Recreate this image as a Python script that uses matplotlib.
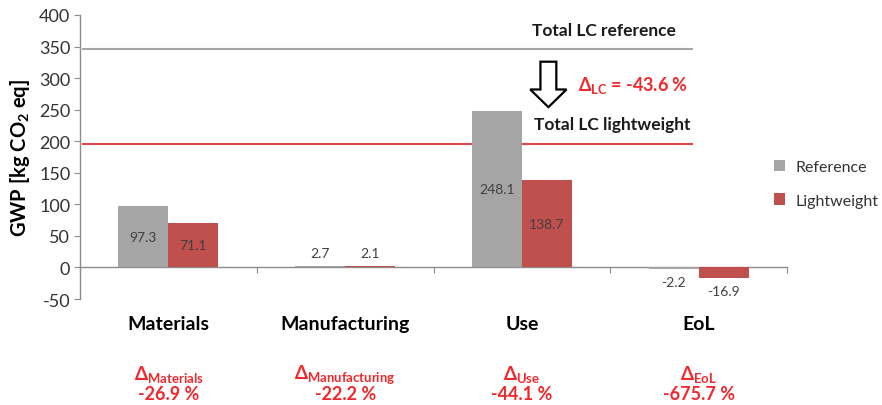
import matplotlib
matplotlib.use("Agg")
import matplotlib.pyplot as plt
import numpy as np
from matplotlib.patches import Patch, FancyArrow

plt.rcParams['font.family'] = ['Lato', 'DejaVu Sans']
plt.rcParams['mathtext.fontset'] = 'custom'
plt.rcParams['mathtext.rm'] = 'Lato:bold'
plt.rcParams['mathtext.it'] = 'Lato:bold'
plt.rcParams['mathtext.bf'] = 'Lato:bold'

# Life-cycle phases and GWP per phase
phases = ["Materials", "Manufacturing", "Use", "EoL"]
phase_subscripts = ["Materials", "Manufacturing", "Use", "EoL"]
reference = [97.3, 2.7, 248.1, -2.2]
lightweight = [71.1, 2.1, 138.7, -16.9]
phase_deltas = ["-26.9 %", "-22.2 %", "-44.1 %", "-675.7 %"]
series_names = ["Reference", "Lightweight"]
y_ticks = [-50, 0, 50, 100, 150, 200, 250, 300, 350, 400]

ref_color = "#A5A5A5"
lw_color = "#C0504D"
line_red = "#E0464B"
delta_red = "#F0282D"
text_gray = "#404040"
axis_gray = "#8C8C8C"

fig = plt.figure(figsize=(8.82, 4.06), dpi=100)
ax = fig.add_axes([0.0907, 0.261, 0.8016, 0.6996])

x = np.arange(len(phases)) + 0.5
bw = 0.283
ref_bars = ax.bar(x - bw / 2, reference, bw, color=ref_color, zorder=3)
lw_bars = ax.bar(x + bw / 2, lightweight, bw, color=lw_color, zorder=3)

# value labels: inside tall bars, outside short ones
for bars, vals in ((ref_bars, reference), (lw_bars, lightweight)):
    for b, v in zip(bars, vals):
        cx = b.get_x() + b.get_width() / 2
        if abs(v) > 30:
            ax.text(cx, v / 2, f"{v:.1f}", ha="center", va="center",
                    fontsize=10, color=text_gray, zorder=4)
        elif v >= 0:
            ax.annotate(f"{v:.1f}", (cx, v), xytext=(0, 5), textcoords="offset points",
                        ha="center", va="bottom", fontsize=10, color=text_gray)
        else:
            ax.annotate(f"{v:.1f}", (cx, v), xytext=(0, -5), textcoords="offset points",
                        ha="center", va="top", fontsize=10, color=text_gray)

# life-cycle totals
total_ref = sum(reference)
total_lw = sum(lightweight)
delta_lc = (total_lw - total_ref) / total_ref * 100
ax.hlines(total_ref, 0.01, 3.47, color="#A6A6A6", lw=1.5, zorder=2)
ax.hlines(total_lw, 0.01, 3.47, color=line_red, lw=1.5, zorder=2)
ax.text(2.56, 377, "Total LC reference", fontsize=12.5, fontweight="bold",
        color="#1a1a1a", ha="left", va="center")
ax.text(2.57, 228, "Total LC lightweight", fontsize=12.5, fontweight="bold",
        color="#1a1a1a", ha="left", va="center")
ax.add_patch(FancyArrow(2.65, 326, 0, -72, width=0.09, head_width=0.205,
                        head_length=28, length_includes_head=True,
                        facecolor="white", edgecolor="black", lw=1.6, zorder=5))
ax.text(2.82, 290, r"$\Delta_{\rm LC}$" + f" = {delta_lc:.1f} %", fontsize=13,
        fontweight="bold", color=delta_red, ha="left", va="center")

# axes styling
ax.set_xlim(0, len(phases))
ax.set_ylim(-50, 400)
ax.set_yticks(y_ticks)
ax.set_yticklabels([str(t) for t in y_ticks], fontsize=13, color="#333333")
ax.set_xticks(np.arange(len(phases) + 1))
ax.set_xticklabels([])
ax.spines["top"].set_visible(False)
ax.spines["right"].set_visible(False)
ax.spines["bottom"].set_position(("data", 0))
for s in ("left", "bottom"):
    ax.spines[s].set_color(axis_gray)
    ax.spines[s].set_linewidth(1.0)
ax.tick_params(axis="y", direction="out", length=4, color=axis_gray, pad=3)
ax.tick_params(axis="x", direction="out", length=4, color=axis_gray)
ax.set_ylabel(r"GWP [kg CO$_2$ eq]", fontsize=14.5, fontweight="bold", labelpad=5)

# phase names and relative changes below the axis
for xi, name, sub, d in zip(x, phases, phase_subscripts, phase_deltas):
    ax.text(xi, -88, name, fontsize=14, fontweight="bold", color="black",
            ha="center", va="center", clip_on=False)
    ax.text(xi, -168, r"$\Delta_{\rm " + sub + "}$", fontsize=13.5,
            color=delta_red, ha="center", va="center", clip_on=False)
    ax.text(xi, -199, d, fontsize=13, fontweight="bold", color=delta_red,
            ha="center", va="center", clip_on=False)

handles = [Patch(facecolor=ref_color), Patch(facecolor=lw_color)]
fig.legend(handles, series_names, loc="center left", bbox_to_anchor=(0.877, 0.545),
           frameon=False, fontsize=11.5, handlelength=0.75, handleheight=0.75,
           handletextpad=0.6, labelspacing=1.2, labelcolor="#333333",
           borderaxespad=0, borderpad=0)

fig.savefig("out.png", dpi=100)
